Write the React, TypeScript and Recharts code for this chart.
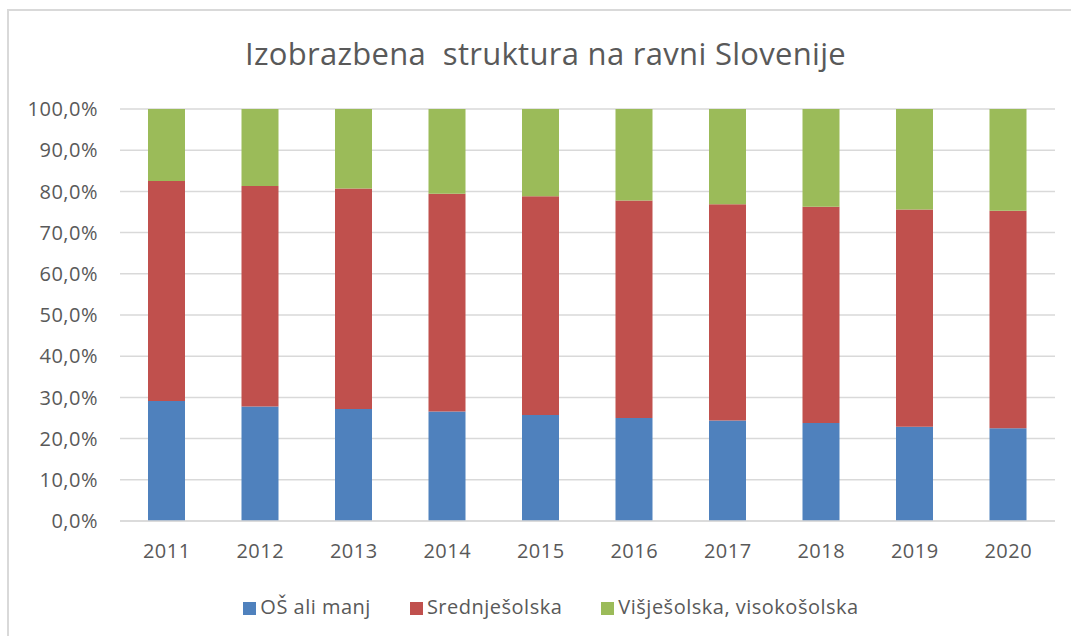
import { BarChart, Bar, XAxis, YAxis, CartesianGrid, Legend } from 'recharts';

const years = ['2011', '2012', '2013', '2014', '2015', '2016', '2017', '2018', '2019', '2020'];
const osAliManj = [29.1, 27.8, 27.2, 26.6, 25.7, 25.0, 24.4, 23.8, 22.9, 22.5];
const srednjesolska = [53.4, 53.5, 53.5, 52.8, 53.1, 52.8, 52.5, 52.5, 52.7, 52.8];
const visjesolska = [17.5, 18.7, 19.3, 20.6, 21.2, 22.2, 23.1, 23.7, 24.4, 24.7];
const yTicks = [0, 10, 20, 30, 40, 50, 60, 70, 80, 90, 100];

const data = years.map((year, i) => ({
  year,
  os: osAliManj[i],
  sred: srednjesolska[i],
  visje: visjesolska[i],
}));

const font = '"Open Sans", sans-serif';
const textColor = '#595959';
const tickStyle = { fill: textColor, fontSize: 20, fontFamily: font, letterSpacing: 0.5 };

export default function App() {
  return (
    <div
      style={{
        position: 'absolute',
        top: 0,
        left: 0,
        width: 1071,
        height: 636,
        background: '#fff',
        fontFamily: font,
      }}
    >
      <div
        style={{
          position: 'absolute',
          top: 9,
          left: 7,
          right: 0,
          bottom: 0,
          borderTop: '2px solid #d9d9d9',
          borderLeft: '2px solid #d9d9d9',
        }}
      />
      <div
        style={{
          position: 'absolute',
          top: 32,
          left: 0,
          width: 1091,
          textAlign: 'center',
          fontSize: 31,
          letterSpacing: 0.3,
          color: textColor,
        }}
      >
        Izobrazbena&nbsp; struktura na ravni Slovenije
      </div>
      <div style={{ position: 'absolute', top: 0, left: 0 }}>
        <BarChart
          width={1071}
          height={636}
          data={data}
          margin={{ top: 109, right: 16, left: 0, bottom: 16 }}
        >
          <CartesianGrid vertical={false} stroke="#d9d9d9" strokeWidth={1.5} />
          <XAxis
            dataKey="year"
            height={72}
            tickLine={false}
            axisLine={{ stroke: '#d9d9d9', strokeWidth: 1.5 }}
            tickMargin={17}
            tick={tickStyle}
          />
          <YAxis
            width={120}
            domain={[0, 100]}
            ticks={yTicks}
            tickLine={false}
            axisLine={false}
            tickSize={0}
            tickMargin={22}
            tickFormatter={(v: number) => v.toFixed(1).replace('.', ',') + '%'}
            tick={tickStyle}
          />
          <Legend
            iconType="square"
            iconSize={13}
            wrapperStyle={{ fontSize: 20, fontFamily: font, letterSpacing: 0.5, paddingLeft: 43 }}
            formatter={(value: string) => <span style={{ color: textColor, marginRight: 29 }}>{value}</span>}
          />
          <Bar dataKey="os" name="OŠ ali manj" stackId="a" fill="#4F81BD" barSize={37} isAnimationActive={false} />
          <Bar dataKey="sred" name="Srednješolska" stackId="a" fill="#C0504D" barSize={37} isAnimationActive={false} />
          <Bar
            dataKey="visje"
            name="Višješolska, visokošolska"
            stackId="a"
            fill="#9BBB59"
            barSize={37}
            isAnimationActive={false}
          />
        </BarChart>
      </div>
    </div>
  );
}
